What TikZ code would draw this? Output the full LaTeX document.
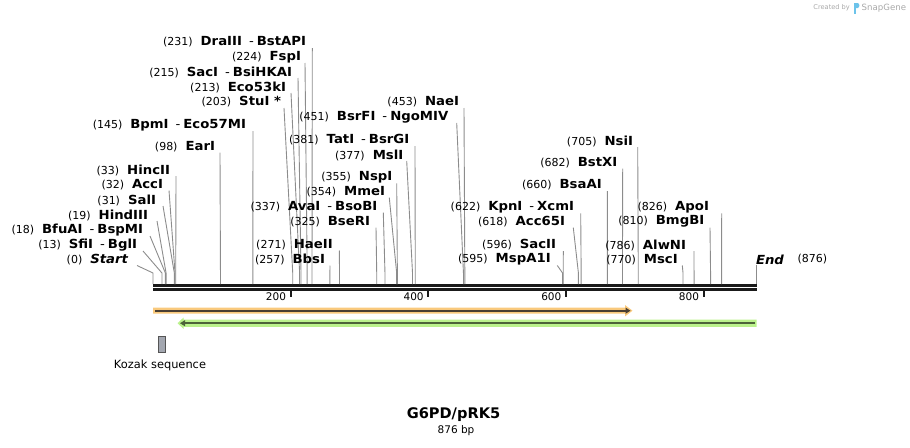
\documentclass[tikz,border=0pt]{standalone}
\usepackage{fontspec}
\setmainfont{DejaVu Sans}
\newfontfamily\lblfam[FakeStretch=1.06]{DejaVu Sans}
\usetikzlibrary{arrows.meta}
\definecolor{leadc}{HTML}{8C8C8C}
\definecolor{bbone}{HTML}{1A1A1A}
\definecolor{orfo}{HTML}{F9C97C}
\definecolor{orfod}{HTML}{4A3F33}
\definecolor{orfg}{HTML}{BBF28C}
\definecolor{orfgd}{HTML}{4D6339}
\definecolor{kozf}{HTML}{A3A7B0}
\definecolor{kozd}{HTML}{555555}
\definecolor{credit}{HTML}{A8A8A8}
\definecolor{logoc}{HTML}{6CC3EA}
\newcommand\lblnum{\fontsize{11}{13}\selectfont\mdseries}
\newcommand\lblname{\lblfam\fontsize{12.5}{14}\selectfont\bfseries}
\newcommand\dsep{{\mdseries\hspace{7pt}-\hspace{3pt}}}
\tikzset{
  lbl/.style={inner sep=0pt, outer sep=0pt, anchor=east, text=black},
  leaderline/.style={draw=leadc, line width=0.9pt},
  bbline/.style={draw=bbone},
  tickline/.style={draw=bbone, line width=2pt},
  ticklbl/.style={inner sep=0pt, anchor=east, font=\fontsize{10.5}{12}\selectfont}
}
\begin{document}
\begin{tikzpicture}[x=1pt,y=-1pt]
\useasboundingbox (0,0) rectangle (910,447);
% backbone
\coordinate (bbs1) at (153,285.3); \coordinate (bbe1) at (756.5,285.3);
\coordinate (bbs2) at (153,289.5); \coordinate (bbe2) at (756.5,289.5);
\draw[bbline, line width=2.7pt] (bbs1) -- (bbe1);
\draw[bbline, line width=2.5pt] (bbs2) -- (bbe2);
% ticks
\foreach \t in {200,400,600,800}{
  \coordinate (tk\t a) at ({153+\t*0.68836},290);
  \coordinate (tk\t b) at ({153+\t*0.68836},296.7);
  \draw[tickline] (tk\t a) -- (tk\t b);
  \node[ticklbl] (tl\t) at ({153+\t*0.68836-4.5},297) {\t};
}
% enzyme labels
\foreach \id/\ex/\ly/\sxs/\p/\nm in {
 dra/306/42/312.3/231/{DraIII\dsep BstAPI},
 fsp/301/57/305/224/{FspI},
 sac/292/72/298/215/{SacI\dsep BsiHKAI},
 ecok/286/87/291/213/{Eco53kI},
 stu/281/102/284/203/{StuI *},
 bpm/246/125/253/145/{BpmI\dsep Eco57MI},
 ear/215/146.5/220/98/{EarI},
 hinc/170/170/176/33/{HincII},
 acc/163/184.5/169/32/{AccI},
 sal/156/200/163/31/{SalI},
 hind/148/215/157/19/{HindIII},
 bfu/143/230/150/18/{BfuAI\dsep BspMI},
 sfi/137/245/143/13/{SfiI\dsep BglI},
 start/128/259.5/137/0/{\itshape Start},
 nae/459/102/464/453/{NaeI},
 bsrf/448.3/117/456.7/451/{BsrFI\dsep NgoMIV},
 tat/409.3/140/415/381/{TatI\dsep BsrGI},
 msl/403.3/155/406.7/377/{MslI},
 nsp/392.3/177.3/396.7/355/{NspI},
 mme/385/191.7/389.3/354/{MmeI},
 ava/377.3/206.7/383.3/337/{AvaI\dsep BsoBI},
 bser/370/221.7/376/325/{BseRI},
 haeii/332.7/244.5/339.3/271/{HaeII},
 bbs/325/259.5/330/257/{BbsI},
 nsi/633/141/637.7/705/{NsiI},
 bstx/617.3/162.5/622.7/682/{BstXI},
 bsaa/601.7/185/607.3/660/{BsaAI},
 kpn/574/207.3/580.7/622/{KpnI\dsep XcmI},
 acc65/565/221.7/573.3/618/{Acc65I},
 sacii/556/245/563.3/596/{SacII},
 mspa/550.7/259.5/557.3/595/{MspA1I},
 apo/709/207.3/721.7/826/{ApoI},
 bmgb/704.3/221.7/710/810/{BmgBI},
 alwn/686/245/694/786/{AlwNI},
 msc/677.7/259.5/682.3/770/{MscI}}{
  \node[lbl] (\id) at (\ex,\ly) {{\lblnum(\p)}\hspace{8pt}{\lblname\nm}};
  \coordinate (\id-a) at (\sxs,\ly+6);
  \coordinate (\id-b) at ({153+\p*0.68836},273);
  \coordinate (\id-c) at ({153+\p*0.68836},284);
  \draw[leaderline] (\id-a) -- (\id-b) -- (\id-c);
}
% End
\node[lbl, anchor=west] (endlbl) at (756,259.5) {\lblname\itshape End};
\node[lbl, anchor=west] (endnum) at (797.5,259.5) {\lblnum(876)};
\coordinate (end-a) at (756,265);
\coordinate (end-c) at (756,284);
\draw[leaderline] (end-a) -- (end-c);
% orange feature (forward)
\fill[orfo] (153,307.7) -- (625,307.7) -- (625,305) -- (632.5,310.7) -- (625,316.4) -- (625,313.7) -- (153,313.7) -- cycle;
\coordinate (oa) at (155,310.7); \coordinate (ob) at (626,310.7);
\draw[orfod, line width=2.2pt] (oa) -- (ob);
\fill[orfod] (625.5,307.6) -- (630.5,310.7) -- (625.5,313.8) -- cycle;
% green feature (reverse)
\fill[orfg] (756.7,319.5) -- (183.5,319.5) -- (183.5,317.6) -- (177.5,323.2) -- (183.5,328.8) -- (183.5,326.9) -- (756.7,326.9) -- cycle;
\coordinate (ga) at (755,323.2); \coordinate (gb) at (184,323.2);
\draw[orfgd, line width=2.2pt] (ga) -- (gb);
\fill[orfgd] (185,320.1) -- (180,323.2) -- (185,326.3) -- cycle;
% Kozak
\draw[fill=kozf, draw=kozd, line width=1pt] (158.3,336.4) rectangle (165.2,352.3);
\node[inner sep=0pt] (koz) at (160,365) {\fontsize{11.4}{13}\selectfont Kozak sequence};
% title
\node[inner sep=0pt] (title) at (453.5,415) {\fontsize{14.6}{17}\selectfont\bfseries G6PD/pRK5};
\node[inner sep=0pt] (bp) at (456,431) {\fontsize{10.5}{12}\selectfont 876 bp};
% credit
\node[inner sep=0pt, anchor=east, text=credit] (cr1) at (850,8) {\fontsize{6.6}{8}\selectfont Created by};
\fill[logoc] (853.5,3) rectangle (855.8,13.5);
\fill[logoc] (855.8,3) -- (857.5,3) .. controls (860,3) and (860,8) .. (857.5,8) -- (855.8,8) -- cycle;
\node[inner sep=0pt, anchor=west, text=credit] (cr2) at (861.5,8) {\fontsize{8.6}{10}\selectfont SnapGene};
\end{tikzpicture}
\end{document}
